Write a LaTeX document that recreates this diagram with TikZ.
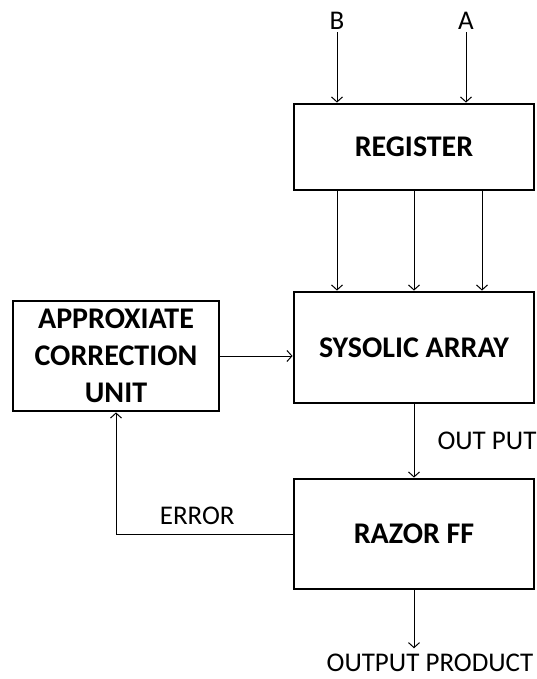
\documentclass[tikz,border=0pt]{standalone}
\usepackage{fontspec}
\setmainfont{Carlito}
\usetikzlibrary{positioning,arrows.meta}

\tikzstyle{block} = [draw, line width=2.8pt, rectangle, align=center,
    font=\fontsize{30}{37}\selectfont\bfseries, inner sep=0pt]
\tikzstyle{label} = [font=\fontsize{27}{30}\selectfont, inner sep=2pt]
\tikzstyle{wire} = [draw, line width=1pt, -{Straight Barb[length=5pt,width=11pt]}]

\begin{document}
\begin{tikzpicture}[x=1pt, y=-1pt]
    \useasboundingbox (0,0) rectangle (537,679);
    % We start by placing the blocks
    \node [block, minimum width=240pt, minimum height=86pt] (register) at (414,147) {REGISTER};
    \node [block, minimum width=240pt, minimum height=111pt] (sysolic) at (414,347.5) {SYSOLIC ARRAY};
    \node [block, minimum width=240pt, minimum height=110pt] (razor) at (414,534) {RAZOR FF};
    \node [block, minimum width=206pt, minimum height=110pt] (approx) at (116,356) {APPROXIATE\\CORRECTION\\UNIT};
    \node [label, anchor=base] (b) at (337,30) {B};
    \node [label, anchor=base] (a) at (466,30) {A};
    \node [label, anchor=base, inner sep=0pt] (product) at (430,671) {OUTPUT PRODUCT};

    % inputs into the register
    \draw [wire] (b.south) -- (register.north -| b);
    \draw [wire] (a.south) -- (register.north -| a);
    \draw [wire] (register.south -| b) -- (sysolic.north -| b);
    \draw [wire] (register.south) -- (sysolic.north);
    \draw [wire] ([xshift=68pt]register.south) -- ([xshift=68pt]sysolic.north);

    \draw [wire] (approx.east) -- (sysolic.west |- approx.east);
    \draw [wire] (sysolic.south) -- node [label, right=21pt] {OUT PUT} (razor.north);
    \draw [wire] (razor.west) -| node [label, above=7pt, pos=0.27] {ERROR} (approx.south);
    \draw [wire, shorten >=5pt] (razor.south) -- (razor.south |- product.north);
\end{tikzpicture}
\end{document}
